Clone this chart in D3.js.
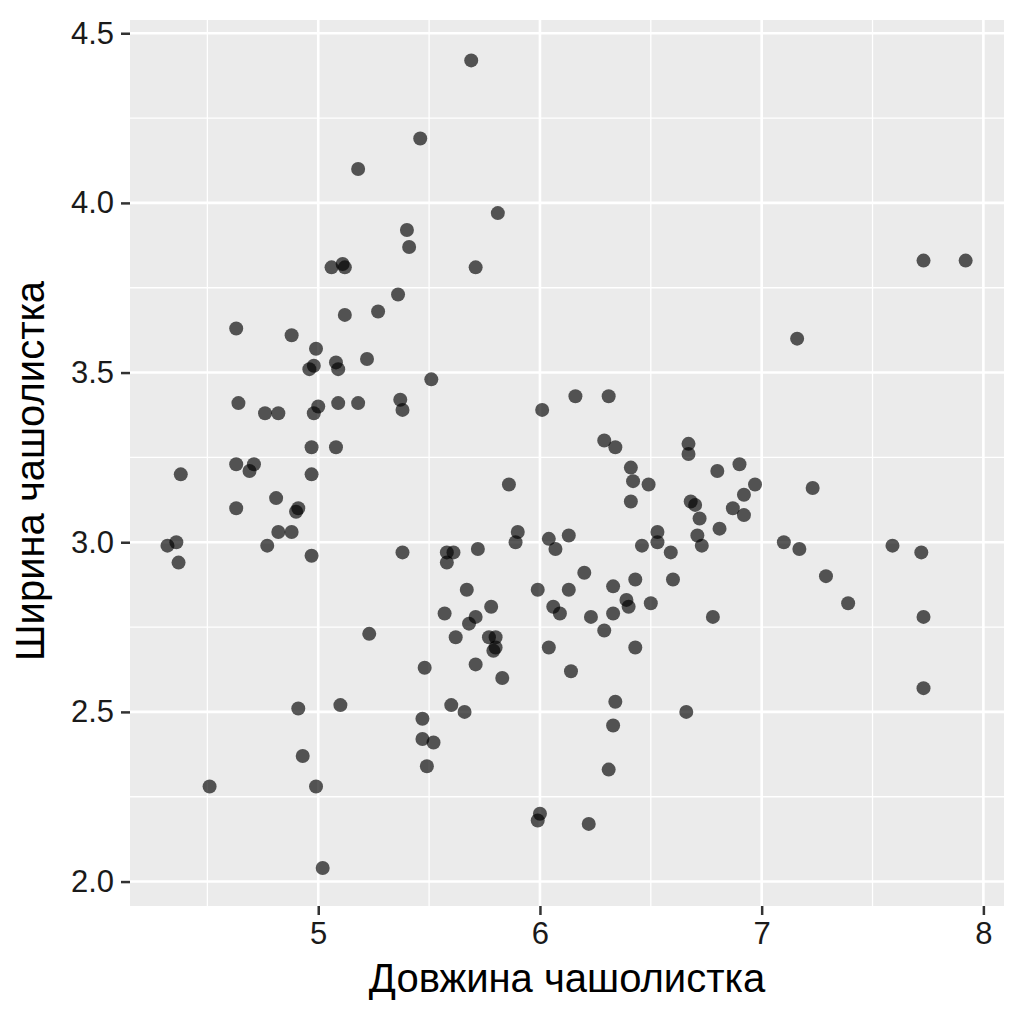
<!DOCTYPE html>
<html><head>
<meta charset="utf-8">
<script src="https://d3js.org/d3.v7.min.js"></script>
<style>
  body { margin: 0; background: #fff; }
  svg { font-family: "Liberation Sans", Arial, sans-serif; }
  .grid-major line { stroke: #fff; stroke-width: 2.6; }
  .grid-minor line { stroke: #fff; stroke-width: 1.3; }
  .axis .domain { display: none; }
  .axis line { stroke: #333; stroke-width: 2.5; }
  .axis text { fill: #1a1a1a; font-size: 31px; }
  .title { fill: #000; font-size: 40px; }
</style>
</head>
<body>
<svg id="chart" width="1024" height="1024"></svg>
<script>
// Sepal length / sepal width
let sepalLength = [
  5.69,5.46,5.18,5.81,5.40,5.41,5.71,5.06,5.11,5.12,5.36,5.12,5.27,4.63,4.88,4.99,5.08,5.22,4.96,4.98,
  5.09,5.51,4.64,5.09,5.18,5.37,5.38,4.76,4.82,5.00,4.98,4.63,4.71,4.69,4.38,4.97,5.08,4.97,4.81,4.63,
  4.91,4.90,4.82,4.88,4.77,4.32,4.36,4.37,4.97,5.38,4.91,5.23,5.10,4.51,4.93,4.99,5.02,
  6.01,6.16,6.31,6.29,6.34,6.67,6.67,
  6.41,6.42,6.49,6.41,6.80,6.68,6.70,6.72,6.71,6.73,6.81,
  5.86,5.90,5.89,6.04,6.13,6.07,6.53,6.53,6.46,6.59,
  5.58,5.61,5.58,5.72,6.20,6.33,6.43,6.60,5.67,5.99,6.13,
  5.78,6.06,6.09,6.23,6.33,6.39,6.40,6.50,6.78,
  5.57,5.71,5.68,5.62,5.77,5.80,5.80,5.79,6.29,6.04,6.43,
  5.48,5.71,5.83,6.14,5.60,5.66,5.47,5.47,5.52,5.49,
  6.34,6.33,6.66,6.31,6.00,5.99,6.22,
  6.90,6.97,6.92,6.87,6.92,7.23,7.10,7.17,7.29,7.39,7.59,7.72,7.73,7.73,7.16,7.73,7.92
];
let sepalWidth = [
  4.42,4.19,4.10,3.97,3.92,3.87,3.81,3.81,3.82,3.81,3.73,3.67,3.68,3.63,3.61,3.57,3.53,3.54,3.51,3.52,
  3.51,3.48,3.41,3.41,3.41,3.42,3.39,3.38,3.38,3.40,3.38,3.23,3.23,3.21,3.20,3.28,3.28,3.20,3.13,3.10,
  3.10,3.09,3.03,3.03,2.99,2.99,3.00,2.94,2.96,2.97,2.51,2.73,2.52,2.28,2.37,2.28,2.04,
  3.39,3.43,3.43,3.30,3.28,3.29,3.26,
  3.22,3.18,3.17,3.12,3.21,3.12,3.11,3.07,3.02,2.99,3.04,
  3.17,3.03,3.00,3.01,3.02,2.98,3.03,3.00,2.99,2.97,
  2.97,2.97,2.94,2.98,2.91,2.87,2.89,2.89,2.86,2.86,2.86,
  2.81,2.81,2.79,2.78,2.79,2.83,2.81,2.82,2.78,
  2.79,2.78,2.76,2.72,2.72,2.72,2.69,2.68,2.74,2.69,2.69,
  2.63,2.64,2.60,2.62,2.52,2.50,2.48,2.42,2.41,2.34,
  2.53,2.46,2.50,2.33,2.20,2.18,2.17,
  3.23,3.17,3.14,3.10,3.08,3.16,3.00,2.98,2.90,2.82,2.99,2.97,2.78,2.57,3.60,3.83,3.83
];
let xTicks = [5, 6, 7, 8];
let xMinor = [4.5, 5.5, 6.5, 7.5];
let yTicks = [2.0, 2.5, 3.0, 3.5, 4.0, 4.5];
let yMinor = [2.25, 2.75, 3.25, 3.75, 4.25];
let xTitle = "Довжина чашолистка";
let yTitle = "Ширина чашолистка";

let svg = d3.select("#chart");
let margin = { top: 20, right: 20, bottom: 118, left: 130 };
let panelW = 1024 - margin.left - margin.right;
let panelH = 1024 - margin.top - margin.bottom;

let x = d3.scaleLinear().domain([4.151, 8.093]).range([0, panelW]);
let y = d3.scaleLinear().domain([1.928, 4.539]).range([panelH, 0]);

let g = svg.append("g").attr("transform", "translate(" + margin.left + "," + margin.top + ")");

// panel background
g.append("rect").attr("width", panelW).attr("height", panelH).attr("fill", "#EBEBEB");

// grid lines, minor first
let minor = g.append("g").attr("class", "grid-minor");
minor.selectAll(".vx").data(xMinor).enter().append("line")
  .attr("x1", d => x(d)).attr("x2", d => x(d)).attr("y1", 0).attr("y2", panelH);
minor.selectAll(".hy").data(yMinor).enter().append("line")
  .attr("y1", d => y(d)).attr("y2", d => y(d)).attr("x1", 0).attr("x2", panelW);

let major = g.append("g").attr("class", "grid-major");
major.selectAll(".vx").data(xTicks).enter().append("line")
  .attr("x1", d => x(d)).attr("x2", d => x(d)).attr("y1", 0).attr("y2", panelH);
major.selectAll(".hy").data(yTicks).enter().append("line")
  .attr("y1", d => y(d)).attr("y2", d => y(d)).attr("x1", 0).attr("x2", panelW);

// points
let pts = sepalLength.map((d, i) => ({ len: d, wid: sepalWidth[i] }));
g.append("g").selectAll("circle").data(pts).enter().append("circle")
  .attr("cx", d => x(d.len))
  .attr("cy", d => y(d.wid))
  .attr("r", 7)
  .attr("fill", "#000")
  .attr("fill-opacity", 0.65);

// axes
let xAxis = d3.axisBottom(x).tickValues(xTicks).tickFormat(d3.format("d")).tickSize(9).tickPadding(7);
g.append("g").attr("class", "axis").attr("transform", "translate(0," + panelH + ")").call(xAxis);

let yAxis = d3.axisLeft(y).tickValues(yTicks).tickFormat(d3.format(".1f")).tickSize(9).tickPadding(7);
g.append("g").attr("class", "axis").call(yAxis);

// titles
svg.append("text").attr("class", "title")
  .attr("x", margin.left + panelW / 2).attr("y", 992)
  .attr("text-anchor", "middle").text(xTitle);

svg.append("text").attr("class", "title")
  .attr("transform", "translate(44," + (margin.top + panelH / 2 + 8) + ") rotate(-90)")
  .attr("text-anchor", "middle").text(yTitle);
</script>
</body>
</html>
